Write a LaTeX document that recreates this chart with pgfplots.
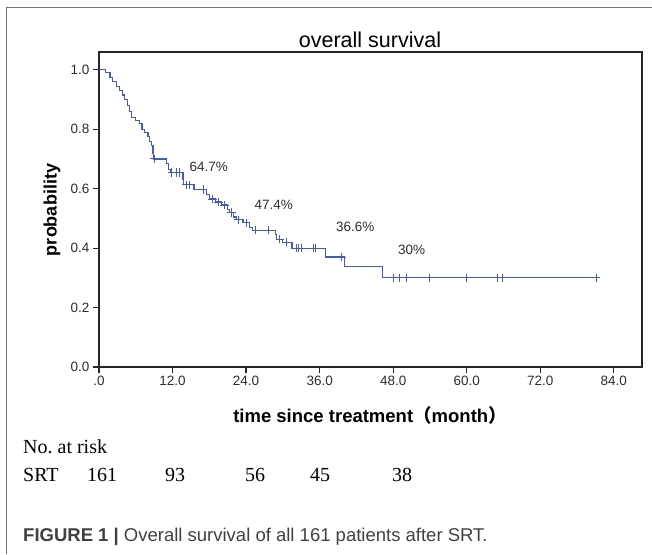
\documentclass[border=0pt]{standalone}
\usepackage{pgfplots}
\pgfplotsset{compat=1.18}
\usepackage{fontspec}
\setmainfont{Liberation Sans}
\newfontfamily\seriffont{Liberation Serif}
\newfontfamily\cjk{Noto Sans CJK SC}
\definecolor{kmblue}{RGB}{70,90,182}
\definecolor{ticktext}{RGB}{45,45,45}
\begin{document}
\begin{tikzpicture}[x=1pt,y=1pt]
\path[use as bounding box] (0,0) rectangle (652,554);
\draw[black!55, line width=1.5pt] (6.5,0) -- (6.5,546.5) -- (652,546.5);
\begin{axis}[
  at={(99pt,187pt)}, anchor=south west,
  scale only axis, width=543pt, height=315pt,
  xmin=0, xmax=88.6, ymin=0, ymax=1.06,
  axis line style={line width=1.3pt, black!85},
  tick align=outside, tick pos=left, major tick length=6pt,
  every tick/.style={line width=1.2pt, black!85},
  xtick={0,12,24,36,48,60,72,84},
  xticklabels={.0,12.0,24.0,36.0,48.0,60.0,72.0,84.0},
  ytick={0,0.2,0.4,0.6,0.8,1},
  yticklabels={0.0,0.2,0.4,0.6,0.8,1.0},
  tick label style={font=\fontsize{13.5}{15}\selectfont, text=ticktext},
  clip=false,
]
\addplot[const plot, kmblue, line width=1.2pt] coordinates {
(0,1.000) (1.0,0.990) (1.8,0.975) (2.2,0.960) (2.9,0.945) (3.3,0.930)
(3.8,0.915) (4.1,0.900) (4.6,0.880) (5.0,0.860) (5.3,0.840) (6.0,0.830)
(6.6,0.820) (7.0,0.800) (7.4,0.790) (8.0,0.775) (8.3,0.760) (8.6,0.745)
(8.8,0.720) (8.9,0.700) (11.0,0.685) (11.4,0.665) (11.7,0.655) (13.7,0.630)
(13.8,0.613) (15.5,0.597) (17.5,0.580) (18.0,0.565) (19.0,0.555) (20.0,0.545)
(21.0,0.530) (21.3,0.520) (22.0,0.505) (22.4,0.495) (23.5,0.485) (24.5,0.470)
(25.0,0.460) (28.8,0.445) (29.0,0.430) (30.0,0.420) (31.5,0.400) (37.0,0.370)
(40.1,0.337) (46.2,0.300) (81.1,0.300)
};
\addplot[only marks, mark=+, mark size=4.2pt, kmblue, line width=1pt] coordinates {
(9.0,0.700) (11.9,0.655) (12.7,0.655) (13.1,0.655) (14.2,0.613) (14.8,0.613)
(17.0,0.597) (18.5,0.565) (19.5,0.555) (20.5,0.545) (21.6,0.520) (22.7,0.495)
(24.0,0.485) (25.6,0.460) (27.7,0.460) (29.5,0.430) (30.6,0.420) (32.2,0.400)
(32.6,0.400) (33.0,0.400) (35.0,0.400) (35.3,0.400) (39.6,0.370) (48.0,0.300)
(49.1,0.300) (50.1,0.300) (54.0,0.300) (60.0,0.300) (65.1,0.300) (65.9,0.300)
(81.1,0.300)
};
\node[font=\fontsize{13.5}{15}\selectfont, text=ticktext] at (axis cs:17.9,0.673) {64.7\%};
\node[font=\fontsize{13.5}{15}\selectfont, text=ticktext] at (axis cs:28.5,0.545) {47.4\%};
\node[font=\fontsize{13.5}{15}\selectfont, text=ticktext] at (axis cs:41.8,0.470) {36.6\%};
\node[font=\fontsize{13.5}{15}\selectfont, text=ticktext] at (axis cs:51.0,0.394) {30\%};
\end{axis}
\node[font=\fontsize{21.5}{24}\selectfont] at (370,514) {overall survival};
\node[font=\bfseries\fontsize{18.5}{20}\selectfont] at (370,139) {time since treatment{\cjk （}month{\cjk ）}};
\node[font=\bfseries\fontsize{18}{20}\selectfont, rotate=90] at (52,344) {probability};
\node[anchor=west, inner sep=0pt, font=\seriffont\fontsize{20}{22}\selectfont] at (23,107) {No.\ at risk};
\node[anchor=west, inner sep=0pt, font=\seriffont\fontsize{20}{22}\selectfont] at (23,79) {SRT};
\node[font=\seriffont\fontsize{20}{22}\selectfont] at (102,79) {161};
\node[font=\seriffont\fontsize{20}{22}\selectfont] at (175,79) {93};
\node[font=\seriffont\fontsize{20}{22}\selectfont] at (255,79) {56};
\node[font=\seriffont\fontsize{20}{22}\selectfont] at (320,79) {45};
\node[font=\seriffont\fontsize{20}{22}\selectfont] at (402,79) {38};
\node[anchor=west, inner sep=0pt, font=\fontsize{18.5}{20}\selectfont, text=black!75] at (23,17) {\textbf{FIGURE 1 |} Overall survival of all 161 patients after SRT.};
\end{tikzpicture}
\end{document}
